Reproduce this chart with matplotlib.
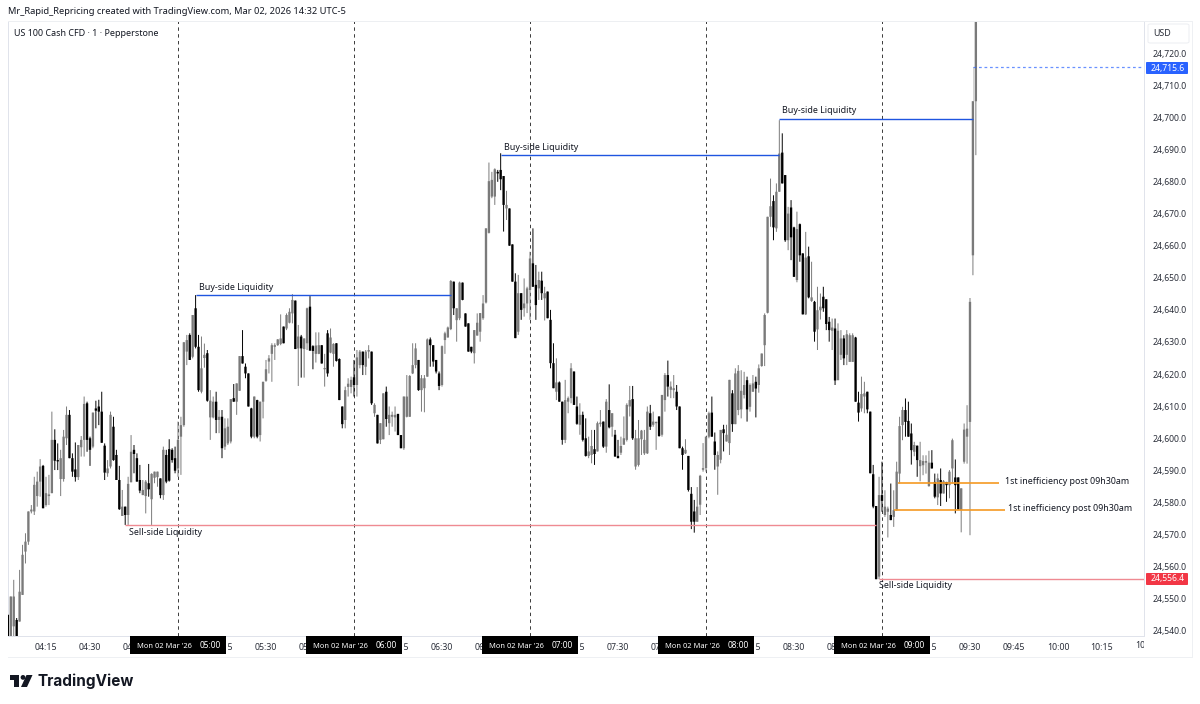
import matplotlib
matplotlib.use("Agg")
import matplotlib.pyplot as plt
import numpy as np
from matplotlib.patches import Rectangle, Polygon, FancyBboxPatch
from matplotlib.transforms import Bbox

plt.rcParams['font.family'] = ['Noto Sans', 'DejaVu Sans']

# prices are kept as offsets from this level
base_price = 24500

opens = [
    45,36,41.4,43.4,42.9,51.2,64.7,67.8,77.2,77.2,
    82,86.5,91.4,79.2,82,82.9,99.5,93.2,87.3,87.3,
    100,107.3,93.8,90.3,87.9,97.2,99.5,110.9,100,97.4,
    109.3,109.9,108.3,97.7,89.1,91.2,103.6,94.8,87,75.8,
    78.7,76.1,86.3,96.4,93.8,87,82.3,82,86,81,
    87.7,87.9,87.5,82.3,94.8,96.6,96.4,93.8,90.6,100.5,
    104.1,127,132.2,125.4,140.5,128.5,114.5,125,126.5,106.5,
    106.5,111.4,105.7,106.7,97.4,98.4,99,112.5,111.4,114.8,
    125.6,122.3,120.2,109.3,100.5,111.9,101,111.4,117.9,123.9,
    126.3,128.5,129,129.4,134.8,134.2,136,138.9,142.9,128,
    131.7,127.8,129.6,141,128.7,126.3,126.3,129,121.5,132.7,
    126.7,126.3,129.6,124.7,109.9,105.7,116,116,119,116.6,
    122.8,127,122.3,127,127,107.8,107.3,99.5,99.7,114.5,
    104.7,106.7,106.5,107.6,101,96.9,106.7,106.7,120.2,122.8,
    124.4,115,115.6,119.2,130.8,129,124.4,120.2,116.6,130.6,
    131.4,134,148.8,136.8,137.4,148.5,138.9,135.8,128.5,126.5,
    132,133.2,137.4,142.3,164,175.3,175.3,183,183.6,181.7,
    171.6,171.6,160.4,148.8,133.2,145.2,140.5,142,146.2,154.5,
    147.8,146.7,149.1,143.6,145.7,136.9,123.4,114.5,117.4,111.4,
    99.5,111.4,112.5,120.8,109.9,104.2,107.3,100,94.5,94.8,
    96.6,95.9,104.4,105.2,97.4,108.8,103.6,101.1,94.5,95.5,
    98,99.5,109.9,112.2,91.2,91.7,99.7,95.3,95.3,107.8,
    104.2,104.7,106.8,101.1,111.9,119.7,115.1,115,114.5,109.9,
    96.9,95.3,94.5,82.7,77.2,74,79.3,90.2,90.7,100.5,
    108,99,91.2,93.3,102.8,99,98.5,114,104.4,108.8,
    109,113.5,118.1,109.8,114.5,117.6,116.6,122.5,129,139.1,
    169,173.9,165.4,176.8,189,182,161.7,171.9,165.7,149.3,
    166.7,157.6,138.6,156.7,142.8,142.5,133.9,139.9,144.1,143.3,
    136.3,133.5,134.2,118.1,126,131.1,126,123.8,123.8,131.4,
    111.1,109.3,113,114.5,108.3,88.8,78.9,56.9,82.3,76.1,
    77.1,76.1,75.5,77.6,89,104.1,108.8,105.4,101.5,95.8,
    97.7,91.3,91.6,92.4,85.1,92.4,86.4,81.6,87,82.8,
    86.4,85.4,90.6,87.8,87.8,77.6,92.7,100.5,105.1,157,205,
]
highs = [
    45,50.7,55.9,44,59,66.8,70.4,77.2,79.2,88,
    89.6,93.5,91.7,88,88.6,108.3,102.8,98.4,96.4,102.6,
    109.9,108.8,95.3,98.7,97.9,100.7,113,111.4,100.5,108,
    111.7,112,114.5,98.4,93.2,108.3,106.7,96.4,91.4,83.9,
    78.7,88,101,97.9,95.3,91.7,87,87,92,89.1,
    89.6,89.6,87.5,97.4,96.4,99.7,96.9,97.4,105.2,106.7,
    130,132.2,132.7,138.4,144.6,132.2,131.7,129.5,127.5,115,
    113,114.5,108.8,108.8,106.2,106.2,112.2,116.9,117.1,125.6,
    133.7,123.3,120.2,109.5,113,112,111.4,117.6,124.4,125.9,
    129.6,129.6,130.9,138.6,134.8,138.9,140.5,144.9,142.9,135.3,
    132.2,131.1,140.7,144.3,129,133,133,129,126.3,133.7,
    134.2,129.6,129.6,124.9,109.9,116.1,118.7,119.2,124.4,127.5,
    127.5,127,127.5,129,127,110.9,107.3,104.7,114,116.1,
    109.9,108.3,109.9,107.6,101,113,119.7,119.7,129.6,129.6,
    124.4,119.7,119.7,131.1,131.4,129,124.4,120.8,128.9,133.2,
    134.8,149.3,148.8,140.5,148.8,148.5,138.9,135.8,128.5,133.7,
    138.9,139,144.6,165.4,185.9,183,184.1,183.6,188.8,181.7,
    177.1,171.6,160.4,151.4,150.9,145.2,149.8,147.2,158.1,165.4,
    154,151.9,151.9,147.2,145.7,140,129.6,124.9,117.7,111.4,
    118.2,113,123.4,120.8,113,110.9,108.3,106.2,100.5,102.6,
    102.6,105.2,108.8,105.2,112.2,116.8,107.8,102.6,99.5,100.5,
    106.8,110.9,116.3,116.3,102.6,105.7,102.6,102.6,109.9,110.4,
    108.3,105.2,106.8,113.5,120.3,124.2,117.7,119.7,116.6,109.9,
    97.4,99.7,94.5,84.8,80.8,84.8,88.6,98.5,100.5,108.3,
    113,101.8,95.9,102.6,104.2,104.2,118.2,115,121.8,122.8,
    121.2,120.7,119.2,117.1,119.7,119.2,123,126.4,138.9,169,
    180.9,175.7,179.4,199.1,195,182,172.1,174.2,165.9,170.6,
    166.9,157.6,164.3,159.7,155,142.8,147.2,145.1,147.2,143.3,
    137.8,137.3,137.3,135.8,133.7,132.1,133.7,132.7,132.7,131.6,
    114.5,119.2,117.6,114.5,108.3,91.7,78.9,88,92.7,83.8,
    78.7,85.9,83.8,92.7,106.7,109.8,112.4,111.4,104.6,98.9,
    97.7,98.9,94.7,94.7,96.1,96.3,89,89,90.6,87,
    86.4,90.1,99.9,93.4,87.8,84.4,104.6,110.3,143.7,205,232,
]
lows = [
    36,35,35,36,42.9,51.2,61,66.8,76.6,76.1,
    78.7,81.8,78.2,78.7,79.2,82.9,90.1,90.1,82,86.5,
    97.9,93.8,88,86.5,87,94.3,94.3,95.8,91.4,96.9,
    103.1,104.1,98.6,87,88,90.6,93,87,77.7,75.8,
    73,73,86.3,89.1,86.5,82.9,82.3,76.6,81.8,73,
    86,84.9,81.3,80.8,86,86.5,92.4,89.1,88,88.6,
    103.6,122.8,124.4,124.9,128,114.5,114,122,111.4,99.5,
    106.2,101.6,101.6,93.8,96.4,97.9,98.4,111.4,107.3,114.8,
    123.3,118.7,109.9,100,100,100,99,106.2,117.6,120.2,
    117.6,124.4,128.8,129,129.6,133.7,135.8,135.8,127.8,116.3,
    118.9,118.9,127.5,127.3,121.5,123.6,126.2,123.3,116.1,119.2,
    126.5,122.3,123.9,111.9,103.1,103.1,113,114,113,113,
    121.8,119.7,119.7,124.9,110.4,106.7,98.4,98.2,99.7,103.6,
    101,103.6,102.1,101,96.9,96.4,106.5,106.7,120,121.8,
    114.8,108.3,108.1,119.2,122.3,122.3,120.2,115,116.1,126.3,
    131.4,133.7,138.4,130.1,136.8,143,134.8,127,126.5,123.3,
    132,130.1,136.9,142,163.8,174.8,172.7,179.9,177.3,164.4,
    168,160,148.8,131.2,132.2,136.9,137.9,139,136.9,147.2,
    136.9,143.1,143.1,136.7,137.4,121.8,115.6,111.9,111.4,98,
    98.5,107.8,110.9,110.4,104.2,101.1,99,94.3,93.8,92.2,
    91.7,95.9,103.6,97,95.5,103.1,100.5,94.3,93.8,94.8,
    98,99,106.8,99.5,90.2,91.2,94.8,94.8,95.1,102.6,
    103.6,96.4,100.5,100.5,108.3,113,112.5,112.5,108.8,96.9,
    90.2,95.1,83.4,71.7,70.6,74,76.1,89.6,89.6,100,
    100.5,90.2,82.4,92.2,95.9,99,94.8,102,104.4,107.2,
    106.2,112.4,105.2,108.3,114.5,106.5,114.2,122.3,122.5,138.9,
    165.9,161.7,164.3,176.8,179.4,161.2,158.6,155.5,150.3,148.6,
    155,138.6,138.4,143.6,142.5,130.1,127.5,137,139.4,133.7,
    130.1,127.5,116.6,118.1,124.4,122.8,122.8,123.8,123.8,111.4,
    105.2,108.3,107.8,107.8,89.1,78.2,56.1,56.1,77.1,75.5,
    69.1,74.5,72.4,77.4,85.9,99.4,100.5,100.5,91.8,94.4,
    88,86.6,88.5,89,84.9,90.6,81.3,79.2,78.9,82.8,
    80.2,81.3,85.9,76.6,77.8,70.7,92.1,92.1,69.8,150.8,188.2,
]
closes = [
    37,50.7,50.7,37,52.2,63.7,67.8,77.2,77.8,85.5,
    86.5,91.2,78.2,82.9,82.5,99.5,93,92.8,93.8,100.5,
    107.3,93.8,89.6,87.9,97.9,99.5,110.7,99.5,96.4,108,
    108.6,108.3,98.6,89.3,90.6,107.3,93.2,87,77.9,78.7,
    76.1,85.8,95.8,95.1,86.5,83.7,83.9,86.5,84.1,88.9,
    89.6,89.6,82.3,96.4,86.5,86.8,93.2,89.9,99.5,104.1,
    129.9,130.6,124.4,138.4,128.5,115,121.8,126,111.7,111.7,
    111.4,105.7,106.7,96.9,103.1,103.6,112.2,111.4,117.1,125.6,
    123.3,120.2,109.9,100.5,113,100.5,111.4,117.6,121.5,124.9,
    129,129,130.8,131.1,129.6,138.4,139.4,143.1,127.8,131.7,
    128,131.1,140.5,127.3,127.2,128.9,129,123.3,121.8,120.2,
    131.4,129.4,124.1,111.9,104.4,115,117,118.2,116.6,125.2,
    127,122.8,127,127.5,110.9,110.4,98.4,104.7,114,106,
    107.3,107.3,107.3,101,96.9,113,113,119.4,122.8,128,
    115,118.7,118.7,130.8,129,123.9,120.8,116.3,128.7,132.7,
    134.5,149,140.5,140.5,148.5,143.1,134.8,127,127,133.7,
    136,139,142,165.4,180.1,180.5,183.8,182.5,180.7,172.7,
    172.7,160,148.8,131.2,145.2,140,142,146.7,156,147.2,
    141.5,149.3,145.2,145.2,137.4,123.4,115.6,117.4,111.4,99.5,
    111.9,112.5,121.8,110.4,104.5,107.3,99.5,94.5,95.9,97.6,
    95.1,104.7,104.9,97.4,111.4,103.4,107.8,94.3,93.8,97.6,
    100,110.4,111.9,100,100,100,102.4,99.5,108.3,103.6,
    105.2,104.9,100.7,113.5,119.7,116.1,116.1,115.6,109.9,96.9,
    94.8,96.4,83.9,74,74,78.7,88.3,90.7,100.5,107.8,
    100.5,94.8,94.8,102.6,101.6,101.1,118.2,104.4,120.2,121,
    114.8,116.6,109,116.6,117.1,115.5,121.8,126.4,138.4,169,
    172.3,165.7,176.8,188.7,179.4,161.7,170,162.6,150.3,165.2,
    157,138.6,156.3,143.9,143.9,133.2,139.9,141,140.5,135.6,
    133.7,134.5,118,133.5,131.1,124.9,132.4,132.1,132.1,111.4,
    108,113.8,114,109,89.1,78.7,56.1,82.3,80.5,78.7,
    78.1,74.5,77.6,89.6,103.8,108.8,105.1,100.5,96.3,97.9,
    93.2,93.2,92.9,92.9,92.4,90.6,81.8,87.5,82.8,86.6,
    85.4,89.6,99.4,85.4,77.8,84.4,102.7,103,142.5,205,232,
]
# minutes after 04:00 of the first bar
first_minute = 2

last_price = 24715.6
low_price = 24556.4

# start minute, end minute, price
buy_side = [(66, 153, 24644.6), (170, 265, 24688.2), (265, 331, 24699.6)]
sell_side = [(42, 298, 24573.0), (299, 390, 24556.3)]
inefficiency = [(305.5, 340, 24586.0), (304, 342, 24577.6)]
# label minute, label price, text
notes = [
    (67.2, 24647.1, 'Buy-side Liquidity'),
    (171.1, 24690.7, 'Buy-side Liquidity'),
    (266, 24702.2, 'Buy-side Liquidity'),
    (43.3, 24570.5, 'Sell-side Liquidity'),
    (299, 24554.0, 'Sell-side Liquidity'),
    (342, 24586.4, '1st inefficiency post 09h30am'),
    (343, 24578.0, '1st inefficiency post 09h30am'),
]
hour_lines = [60, 120, 180, 240, 300]
hour_labels = ["05:00", "06:00", "07:00", "08:00", "09:00"]
time_ticks = [15, 30, 45, 75, 90, 105, 135, 150, 165, 195, 210, 225, 255, 270, 285, 315, 330, 345, 360, 375]
time_labels = ["04:15", "04:30", "04:45", "05:15", "05:30", "05:45", "06:15", "06:30", "06:45", "07:15",
               "07:30", "07:45", "08:15", "08:30", "08:45", "09:15", "09:30", "09:45", "10:00", "10:15"]
price_ticks = list(range(24540, 24721, 10))

W, H = 1200, 704
UP = '#7a7a7a'
DOWN = '#000000'
FRAME = '#e0e3eb'
TEXT = '#131722'


def fx(x):
    return x / W


def fy(y):
    return 1 - y / H


def minute_to_x(m):
    return 2.0 + 2.9333 * m


fig = plt.figure(figsize=(W / 100, H / 100), dpi=100, facecolor='white')
ax = fig.add_axes([fx(8), fy(636), (1144 - 8) / W, (636 - 21) / H])
ax.set_xlim((8 - 2.0) / 2.9333, (1144 - 2.0) / 2.9333)
ax.set_ylim(24538.4, 24730.0)
for s in ax.spines.values():
    s.set_color(FRAME)
    s.set_linewidth(0.7)

# candles
minutes = np.arange(len(closes)) + first_minute
o = np.array(opens) + base_price
h = np.array(highs) + base_price
l = np.array(lows) + base_price
c = np.array(closes) + base_price
up = c >= o
colors = np.where(up, UP, DOWN)
wicks = ax.vlines(minutes, l, h, colors=colors, linewidth=0.7, zorder=3)
wicks.set_snap(False)
body_low = np.minimum(o, c)
body_high = np.maximum(o, c)
bodies = ax.bar(minutes, np.maximum(body_high - body_low, 0.4), bottom=body_low, width=0.8, color=colors,
                linewidth=0, zorder=3)
for b in bodies:
    b.set_snap(False)
# unfinished part of the second last bar
ax.bar(minutes[-2] + 0.15, last_price - o[-1], bottom=o[-1], width=0.55, color='#d4d4d4', linewidth=0, zorder=3)

# session lines
for m in hour_lines:
    ax.axvline(m, color='#3a3a3a', linewidth=0.7, dashes=(3.5, 3.5), zorder=2)

# levels
for a, b, p in buy_side:
    ax.plot([a, b], [p, p], color='#1f55e0', linewidth=1.0, zorder=4, solid_capstyle='butt')
for a, b, p in sell_side:
    ax.plot([a, b], [p, p], color='#ef8a92', linewidth=1.0, zorder=4, solid_capstyle='butt')
for a, b, p in inefficiency:
    ax.plot([a, b], [p, p], color='#f59a23', linewidth=1.2, zorder=4, solid_capstyle='butt')
ax.plot([minutes[-2], 390], [last_price, last_price], color='#2962ff', alpha=0.7, linewidth=0.9, dashes=(2.2, 2.2),
        zorder=4)

for m, p, txt in notes:
    ax.text(m, p, txt, fontsize=6.4, color=TEXT, ha='left', va='center', zorder=5)

# axes ticks
ax.yaxis.tick_right()
ax.set_yticks(price_ticks)
ax.set_yticklabels([f"{p:,.1f}" for p in price_ticks], fontsize=6.2, color='#2a2e39')
ax.tick_params(axis='y', length=0, pad=6.5)
ax.set_xticks(time_ticks)
ax.set_xticklabels(time_labels, fontsize=6.3, color='#2a2e39')
ax.tick_params(axis='x', length=0, pad=5)
for lab in ax.get_xticklabels():
    if lab.get_text() == "10:00":
        lab.set_fontweight('bold')

# clipped label at the right end of the time scale
clip = Bbox([[0, 0], [1144, H]])
t = fig.text(fx(minute_to_x(390)), fy(646), "10:30", fontsize=6.3, color='#2a2e39', ha='center', va='center')
t.set_clip_on(True)
t.set_clip_box(clip)

# outer frame of the scales
fig.add_artist(plt.Line2D([fx(1192), fx(1192)], [fy(21), fy(657)], color='#eef0f3', linewidth=0.7))
fig.add_artist(plt.Line2D([fx(8), fx(1192)], [fy(657), fy(657)], color='#eef0f3', linewidth=0.7))
fig.add_artist(plt.Line2D([fx(8), fx(1192)], [fy(21), fy(21)], color='#eef0f3', linewidth=0.7))

# black time tags
for m, lab in zip(hour_lines, hour_labels):
    x = minute_to_x(m)
    fig.add_artist(Rectangle((fx(x - 48), fy(654)), 96 / W, 18 / H, transform=fig.transFigure,
                             facecolor='black', edgecolor='none', zorder=6))
    fig.text(fx(x - 41), fy(646), "Mon 02 Mar '26", fontsize=5.4, color='white', ha='left', va='center', zorder=7)
    fig.text(fx(x + 43), fy(646), lab, fontsize=6.0, color='white', ha='right', va='center', zorder=7)

# price tags
fig.add_artist(FancyBboxPatch((fx(1146), fy(74)), 42 / W, 12 / H, boxstyle="round,pad=0,rounding_size=0.001",
                              transform=fig.transFigure, facecolor='#2962ff', edgecolor='none', zorder=6))
fig.text(fx(1168), fy(68), f"{last_price:,.1f}", fontsize=6.2, color='white', ha='center', va='center',
         fontweight='bold', zorder=7)
fig.add_artist(FancyBboxPatch((fx(1146), fy(585)), 42 / W, 12 / H, boxstyle="round,pad=0,rounding_size=0.001",
                              transform=fig.transFigure, facecolor='#f23645', edgecolor='none', zorder=6))
fig.text(fx(1168), fy(579), f"{low_price:,.1f}", fontsize=6.2, color='white', ha='center', va='center',
         fontweight='bold', zorder=7)

# currency button
fig.add_artist(FancyBboxPatch((fx(1148), fy(43)), 41 / W, 19 / H, boxstyle="round,pad=0,rounding_size=0.002",
                              transform=fig.transFigure, facecolor='white', edgecolor='#eceef2', linewidth=0.7, zorder=6))
fig.text(fx(1162), fy(33.5), "USD", fontsize=6.4, color='#2a2e39', ha='center', va='center', zorder=7)

# header
fig.text(fx(8), fy(11), "Mr_Rapid_Repricing created with TradingView.com, Mar 02, 2026 14:32 UTC-5",
         fontsize=6.7, color=TEXT, ha='left', va='center')
fig.text(fx(14), fy(33), "US 100 Cash CFD · 1 · Pepperstone", fontsize=6.45, color=TEXT, ha='left', va='center')

# logo
fig.add_artist(Polygon([(fx(9.5), fy(675)), (fx(19), fy(675)), (fx(19), fy(687)), (fx(14), fy(687)),
                        (fx(14), fy(680)), (fx(9.5), fy(680))], closed=True, transform=fig.transFigure,
                       facecolor=TEXT, edgecolor='none'))
fig.add_artist(Polygon([(fx(26.5), fy(675)), (fx(32.5), fy(675)), (fx(27), fy(687)), (fx(21), fy(687))],
                       closed=True, transform=fig.transFigure, facecolor=TEXT, edgecolor='none'))
angles = np.linspace(0, 2 * np.pi, 24)
fig.add_artist(Polygon(np.column_stack([fx(23 + 2.4 * np.cos(angles)), fy(677.4 + 2.4 * np.sin(angles))]),
                       closed=True, transform=fig.transFigure, facecolor=TEXT, edgecolor='none'))
fig.text(fx(38), fy(681), "TradingView", fontsize=11, fontweight='bold', color=TEXT, ha='left', va='center',
         family='Inter')

fig.savefig('out.png', dpi=100)
